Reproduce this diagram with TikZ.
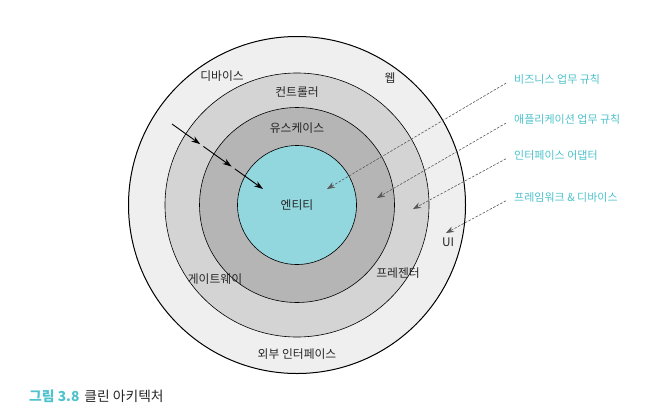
\documentclass[tikz,border=0pt]{standalone}
\usepackage{fontspec}
\setmainfont{Noto Sans CJK KR}
\usetikzlibrary{arrows.meta,calc}
\definecolor{ringouter}{HTML}{EFEFEF}
\definecolor{ringctrl}{HTML}{D4D4D4}
\definecolor{ringuse}{HTML}{B4B5B4}
\definecolor{entityfill}{HTML}{92D6DE}
\definecolor{noteteal}{HTML}{4FC3CD}
\definecolor{labeltext}{HTML}{262626}
\tikzset{
  ring/.style={circle,draw=black,line width=0.6pt,inner sep=0pt},
  lbl/.style={text=labeltext,inner sep=1pt,font=\fontsize{11.8}{14}\selectfont},
  note/.style={text=noteteal,anchor=west,inner sep=1pt},
  notearrow/.style={->,dashed,gray!70!black,line width=0.6pt,dash pattern=on 2.5pt off 1.5pt,
    >={Stealth[length=8pt,width=6pt]},shorten <=8pt}
}

\begin{document}
\begin{tikzpicture}[x=1pt,y=-1pt,>=Stealth,font=\fontsize{11}{13}\selectfont]
  \useasboundingbox (0,0) rectangle (652,415);
  \fill[white] (0,0) rectangle (652,415);
  % rings
  \node[ring,line width=1pt,fill=ringouter,minimum size=337pt] (outer) at (297,205) {};
  \node[ring,fill=ringctrl,minimum size=264pt] (ctrl) at (297,205) {};
  \node[ring,fill=ringuse,minimum size=195pt] (usecase) at (297,205) {};
  \node[ring,fill=entityfill,minimum size=119pt,text=labeltext,font=\fontsize{11.8}{14}\selectfont] (entity) at (297,205) {엔티티};
  % ring labels
  \node[lbl] (device) at (222,76) {디바이스};
  \node[lbl] (web) at (390,78) {웹};
  \node[lbl] (controller) at (297,92) {컨트롤러};
  \node[lbl] (usecases) at (297,128) {유스케이스};
  \node[lbl] (ui) at (448,242) {UI};
  \node[lbl] (gateway) at (215,279) {게이트웨이};
  \node[lbl] (presenter) at (398,273) {프레젠터};
  \node[lbl] (external) at (297,354) {외부 인터페이스};
  % dependency arrow
  \coordinate (depstart) at (172,124);
  \coordinate (depend) at (263,189);
  \foreach \a/\b in {0/0.31,0.345/0.655,0.69/1}
    \draw[->,line width=0.9pt,>={Stealth[length=9pt,width=6pt]}]
      ($(depstart)!\a!(depend)$) -- ($(depstart)!\b!(depend)$);
  % notes
  \node[note] (biz) at (513,79) {비즈니스 업무 규칙};
  \node[note] (app) at (513,119) {애플리케이션 업무 규칙};
  \node[note] (adapter) at (513,155) {인터페이스 어댑터};
  \node[note] (framework) at (513,197) {프레임워크 \& 디바이스};
  \coordinate (bizend) at (327,189);
  \coordinate (append) at (377,198);
  \coordinate (adapterend) at (413,209);
  \coordinate (frameworkend) at (446,233);
  \draw[notearrow] (biz.west) -- (bizend);
  \draw[notearrow] (app.west) -- (append);
  \draw[notearrow] (adapter.west) -- (adapterend);
  \draw[notearrow] (framework.west) -- (frameworkend);
  % caption
  \node[anchor=west,inner sep=0pt,text=labeltext,font=\fontsize{13.8}{16}\selectfont] (caption) at (29,396)
    {\textcolor{noteteal}{\bfseries 그림 3.8}\hspace{5pt}클린 아키텍처};
\end{tikzpicture}
\end{document}
